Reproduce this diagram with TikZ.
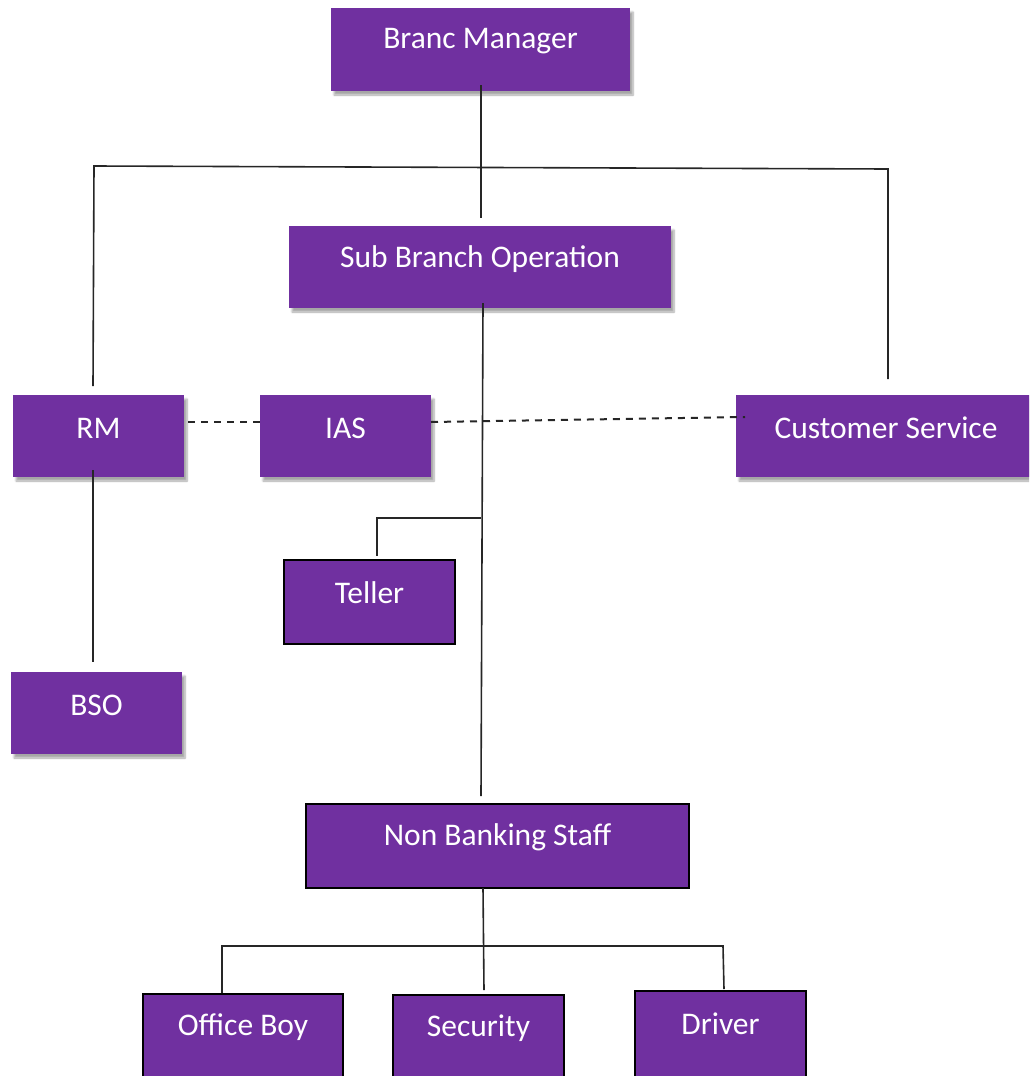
\documentclass[tikz,border=0pt]{standalone}
\usepackage{fontspec}
\setmainfont{Carlito}
\usetikzlibrary{shadows.blur}
\definecolor{boxpurple}{HTML}{7030A0}
\definecolor{linkgray}{HTML}{262626}

% \orgbox{name}{style}{left}{top}{width}{height}{label}
\newcommand{\orgbox}[7]{%
  \node[#2, minimum width=#5pt, minimum height=#6pt] (#1) at (#3,#4) {};
  \node[box text] (#1-label) at ([yshift=-33pt]#1.north) {#7};
}

\begin{document}
\begin{tikzpicture}[x=1pt, y=-1pt,
  unit box/.style={rectangle, fill=boxpurple, anchor=north west, inner sep=0pt, outer sep=0pt},
  shaded box/.style={unit box, blur shadow={shadow xshift=3pt, shadow yshift=-4pt, shadow blur steps=6, shadow opacity=35}},
  framed box/.style={unit box, draw=black, line width=2.2pt},
  box text/.style={text=white, font=\fontsize{31.5}{36}\selectfont, anchor=center, inner sep=0pt},
  link/.style={draw=linkgray, line width=1.6pt},
  dashed link/.style={link, line width=2pt, dash pattern=on 7pt off 6pt}]

\clip (0,0) rectangle (1029,1076);
\useasboundingbox (0,0) rectangle (1029,1076);

% boxes
\orgbox{bm}{shaded box}{331}{8}{299}{83}{Branc Manager}
\orgbox{sbo}{shaded box}{289}{226}{382}{82}{Sub Branch Operation}
\orgbox{rm}{shaded box}{13}{395}{171}{82}{RM}
\orgbox{ias}{shaded box}{260}{395}{171}{82}{IAS}
\orgbox{cs}{shaded box}{736}{395}{300}{82}{Customer Service}
\orgbox{bso}{shaded box}{11}{672}{171}{82}{BSO}
\orgbox{teller}{framed box}{284}{560}{171}{84}{Teller}
\orgbox{nbs}{framed box}{306}{804}{383}{84}{Non Banking Staff}
\orgbox{boy}{framed box}{143}{994}{200}{100}{Office Boy}
\orgbox{sec}{framed box}{393}{995}{171}{100}{Security}
\orgbox{drv}{framed box}{635}{991}{171}{100}{Driver}

% junctions and line ends
\coordinate (bm-out)   at (481,85);
\coordinate (sbo-in)   at (481,218);
\coordinate (bar-l)    at (94,166);
\coordinate (bar-r)    at (888,169);
\coordinate (rm-in)    at (93,386);
\coordinate (cs-in)    at (888,379);
\coordinate (sbo-out)  at (483,303);
\coordinate (teller-j) at (481,518);
\coordinate (teller-c) at (377,518);
\coordinate (teller-in) at (377,556);
\coordinate (nbs-in)   at (481,796);
\coordinate (rm-out)   at (93,470);
\coordinate (bso-in)   at (93,662);
\coordinate (nbs-out)  at (483,888);
\coordinate (sec-in)   at (484,990);
\coordinate (low-l)    at (222,946);
\coordinate (low-r)    at (723,946);
\coordinate (boy-in)   at (222,993);
\coordinate (drv-in)   at (724,989);
\coordinate (rm-east)  at (188,422);
\coordinate (ias-west) at (260,422);
\coordinate (ias-east) at (431,422);
\coordinate (cs-west)  at (745,417);

% reporting lines
\draw[link] (bm-out) -- (sbo-in);
\draw[link] (rm-in) -- (bar-l) -- (bar-r) -- (cs-in);
\draw[link] (sbo-out) -- (nbs-in);
\draw[link] (teller-j) -- (teller-c) -- (teller-in);
\draw[link] (rm-out) -- (bso-in);
\draw[link] (nbs-out) -- (sec-in);
\draw[link] (boy-in) -- (low-l) -- (low-r) -- (drv-in);

% dashed peer links
\draw[dashed link] (rm-east) -- (ias-west);
\draw[dashed link] (ias-east) -- (cs-west);
\end{tikzpicture}
\end{document}
